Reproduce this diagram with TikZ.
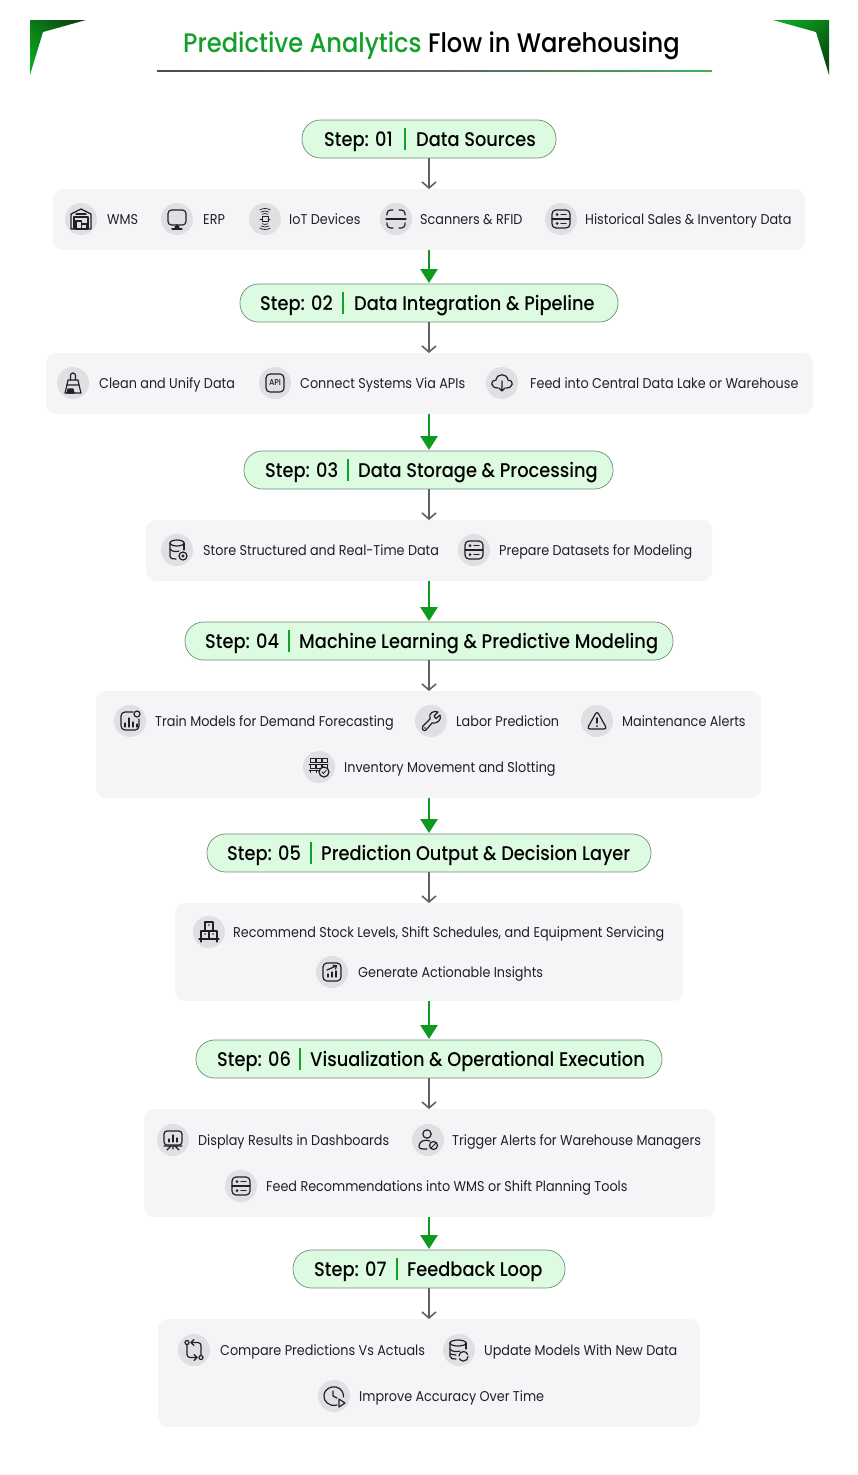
\documentclass[tikz,border=0pt]{standalone}
\usepackage{fontspec}
\setmainfont{Poppins}[FakeStretch=0.9]
\newfontfamily\medfont{Poppins Medium}[FakeStretch=0.9]
\usetikzlibrary{arrows.meta,shadings,calc}
\definecolor{brand}{HTML}{12A02A}
\definecolor{arrowgreen}{HTML}{0E9A1E}
\definecolor{ink}{HTML}{1E2028}
\definecolor{panelbg}{HTML}{F5F5F8}
\definecolor{iconbg}{HTML}{E0E0E3}
\definecolor{pillbg}{HTML}{DDFBE1}
\definecolor{pillline}{HTML}{6F8F76}
\definecolor{linkgray}{HTML}{5F5F64}
\definecolor{cornerdark}{HTML}{0A4A12}
\definecolor{cornerlight}{HTML}{0CA51E}
\newcommand{\pillfont}{\medfont\fontsize{19.8}{24}\selectfont}
\newcommand{\labelfont}{\fontsize{14.2}{17}\selectfont}
\tikzset{
  x=1pt,y=-1pt,
  pillbox/.style={draw=pillline,line width=.7pt,fill=pillbg,rounded corners=18.5pt},
  panelbox/.style={fill=panelbg,rounded corners=10pt},
  grayarrow/.style={draw=linkgray,line width=1.7pt,-{Straight Barb[length=6pt,width=14pt,line width=1.6pt]}},
  greenarrow/.style={draw=arrowgreen,line width=2.8pt,-{Triangle[length=14pt,width=17pt]},shorten >=0pt},
  itemtext/.style={anchor=base west,inner sep=0pt,text=ink,font=\labelfont},
  pilltext/.style={anchor=base west,inner sep=0pt,text=black,font=\pillfont},
  iconcircle/.style={fill=iconbg},
  ic/.style={draw=ink,line width=1.2pt,line cap=round,line join=round},
  icf/.style={fill=ink},
  wms/.pic={
    \draw[ic] (-10,10)--(-10,-5)--(0,-10)--(10,-5)--(10,10)--cycle;
    \draw[ic] (-7,10)--(-7,-2)--(7,-2)--(7,10);
    \draw[ic] (-5,2) rectangle (0.5,10);
    \draw[ic] (0.5,5) rectangle (6,10);
    \draw[ic] (-5,-5)--(5,-5);
  },
  erp/.pic={
    \draw[ic,rounded corners=3.5pt] (-9,-9) rectangle (9,6);
    \draw[ic] (0,6)--(0,10) (-5,10)--(5,10) (-2,8)--(2,8);
  },
  iot/.pic={
    \foreach \r in {5.5,8,10.5}{
      \draw[ic,line width=.7pt] (120:\r pt) arc[start angle=120,end angle=60,radius=\r pt];
      \draw[ic,line width=.7pt] (-120:\r pt) arc[start angle=-120,end angle=-60,radius=\r pt];
    }
    \draw[ic,line width=.7pt] (-3,-2.5) rectangle (3,2.5);
    \draw[ic,line width=.7pt] (-5,0)--(-3,0) (3,0)--(5,0);
  },
  scanner/.pic={
    \draw[ic,rounded corners=3.5pt] (-9,-4)--(-9,-9)--(-3,-9);
    \draw[ic,rounded corners=3.5pt] (9,-4)--(9,-9)--(3,-9);
    \draw[ic,rounded corners=3.5pt] (-9,4)--(-9,9)--(-3,9);
    \draw[ic,rounded corners=3.5pt] (9,4)--(9,9)--(3,9);
    \draw[ic] (-10,0)--(10,0);
  },
  listpanel/.pic={
    \draw[ic,rounded corners=4pt] (-9,-9) rectangle (9,9);
    \draw[ic] (-9,0)--(9,0) (0,-4.5)--(5,-4.5) (0,4.5)--(5,4.5);
    \fill[icf] (-4,-4.5) circle[radius=1.5pt] (-4,4.5) circle[radius=1.5pt];
  },
  brush/.pic={
    \draw[ic] (-2.5,-3)--(-2.5,-7.5) arc[start angle=180,end angle=0,radius=2.5pt]--(2.5,-3);
    \draw[ic] (-5,-3)--(5,-3)--(6,2)--(-6,2)--cycle;
    \draw[ic] (-6,2)--(-8,10)--(8,10)--(6,2);
    \draw[ic,fill=ink] (-6,10)--(-5,6)--(0,6)--(1,10)--cycle;
  },
  apibox/.pic={
    \draw[ic,rounded corners=4pt] (-9,-9) rectangle (9,9);
    \node[inner sep=0pt,text=ink,font=\medfont\fontsize{8.5}{8.5}\selectfont] (apilabel) at (0,0) {API};
  },
  cloud/.pic={
    \draw[ic] (-4,5) .. controls (-12,5) and (-12,-3) .. (-6,-3) .. controls (-5,-10) and (5,-10) .. (6,-3) .. controls (12,-3) and (12,5) .. (4,5);
    \draw[ic] (0,-2)--(0,8) (-3,5)--(0,8)--(3,5);
  },
  dbplus/.pic={
    \draw[ic] (0,-7) ellipse[x radius=7pt,y radius=3pt];
    \draw[ic] (-7,-7)--(-7,6) .. controls (-7,9) and (-3,9) .. (-1,9);
    \draw[ic] (7,-7)--(7,0);
    \draw[ic] (-7,-1) .. controls (-5,2) and (0,2) .. (2,1);
    \draw[ic] (6,6) circle[radius=4pt];
    \fill[icf] (6,6) circle[radius=1.6pt];
  },
  trainchart/.pic={
    \draw[ic,rounded corners=4pt] (3,-9)--(-9,-9)--(-9,9)--(9,9)--(9,-2);
    \draw[ic] (7,-7) circle[radius=3pt];
    \draw[ic] (-5,6)--(-5,2) (-1,6)--(-1,-3) (3,6)--(3,1) (7,6)--(7,3);
  },
  wrench/.pic={
    \draw[ic] (-8,5) -- (-1,-2) .. controls (-3,-8) and (3,-11) .. (7,-9) -- (3,-5) -- (5,-2.5) -- (9,-6) .. controls (11,-1) and (6,3) .. (1,2) -- (-5,9) .. controls (-7,11) and (-10,8) .. (-8,5) -- cycle;
    \fill[icf] (-6,7) circle[radius=.9pt];
  },
  alerttri/.pic={
    \draw[ic,rounded corners=3pt] (0,-10)--(10,8)--(-10,8)--cycle;
    \draw[ic,line width=1.4pt] (0,-3)--(0,2);
    \fill[icf] (0,5) circle[radius=1pt];
  },
  gridcheck/.pic={
    \foreach \a in {-9,-3,3}{
      \draw[ic,line width=.9pt] (\a,-9) rectangle ++(5,4);
      \draw[ic,line width=.9pt] (\a,-3) rectangle ++(5,4);
      \draw[ic,line width=.9pt] (\a,3)--++(0,2.5);
    }
    \draw[ic,line width=.9pt] (-10,-3)--(9,-3) (-10,3)--(4,3);
    \draw[ic,fill=iconbg] (5,5) circle[radius=5pt];
    \draw[ic,line width=.8pt] (3,5)--(4.5,6.5)--(7,3.5);
  },
  boxes/.pic={
    \draw[ic] (-4,-10) rectangle (4,-1);
    \draw[ic] (-8,-1) rectangle (0,7);
    \draw[ic] (0,-1) rectangle (8,7);
    \draw[ic] (-10,7)--(10,7) (-8,7)--(-8,10) (8,7)--(8,10);
    \fill[icf] (0,-7) circle[radius=.8pt] (-4,2) circle[radius=.8pt] (4,2) circle[radius=.8pt];
  },
  insight/.pic={
    \draw[ic,rounded corners=4pt] (-9,-9) rectangle (9,9);
    \draw[ic] (-4,5)--(-4,2) (0,5)--(0,0) (4,5)--(4,-1);
    \draw[ic] (-5,-2)--(4,-6) (1,-6.5)--(4.5,-6.3)--(3.5,-3);
  },
  dashboard/.pic={
    \draw[ic,rounded corners=3pt] (-9,-9) rectangle (9,5);
    \draw[ic] (-4,2)--(-4,-1) (0,2)--(0,-5) (4,2)--(4,-2);
    \draw[ic] (-9,6)--(9,6) (0,6)--(0,9) (-2,6)--(-6,10) (2,6)--(6,10);
  },
  useralert/.pic={
    \draw[ic] (-1,-6) circle[radius=4.2pt];
    \draw[ic] (2,1) .. controls (-3,-1) and (-9,1) .. (-9,6) .. controls (-9,9) and (-7,9) .. (-1,9);
    \draw[ic] (5.5,5.5) circle[radius=4pt];
    \draw[ic,line width=.8pt] (3.5,7.5)--(7.5,3.5);
  },
  comparegit/.pic={
    \draw[ic] (-7,-7.5) circle[radius=2pt] (7,7.5) circle[radius=2pt];
    \draw[ic,rounded corners=3pt] (-7,-5)--(-7,7.5)--(3,7.5);
    \draw[ic] (0,4.5)--(3,7.5)--(0,10.5);
    \draw[ic,rounded corners=3pt] (7,5)--(7,-7.5)--(-3,-7.5);
    \draw[ic] (0,-10.5)--(-3,-7.5)--(0,-4.5);
  },
  dbsync/.pic={
    \draw[ic] (-1,-7) ellipse[x radius=8pt,y radius=3pt];
    \draw[ic] (-9,-7)--(-9,6) .. controls (-9,9) and (-6,9) .. (-3,9);
    \draw[ic] (7,-7)--(7,-1);
    \draw[ic] (-9,-1) .. controls (-7,2) and (-2,2) .. (1,1);
    \draw[ic] (-9,4) -- (-3,5);
    \draw[ic] (0,6) arc[start angle=180,end angle=20,radius=4.5pt];
    \draw[ic] (9,6.5) arc[start angle=0,end angle=-150,radius=4.5pt];
  },
  clockplay/.pic={
    \draw[ic] (3,9) .. controls (-5,11) and (-11,5) .. (-10,-1) .. controls (-9,-8) and (-2,-10) .. (2,-9) .. controls (7,-8) and (10,-3) .. (9.5,1);
    \draw[ic] (-1,-5)--(-1,0)--(3,2);
    \draw[ic] (5,3)--(11,7)--(5,11)--cycle;
  },
}
\newcommand{\stepitem}[6]{% id, icon style, icon x, y, label x, text
  \fill[iconcircle] (#3,#4) circle[radius=16pt];
  \pic at (#3,#4) {#2};
  \node[itemtext] (#1) at (#5,#4+5.4) {#6};
}
\newcommand{\pilltexts}[6]{% id, step x, step, bar x, title x, y; title follows
  \node[pilltext] (#1s) at (#2,#6+7) {#3};
  \fill[brand] (#4-1,#6-11) rectangle (#4+1,#6+11);
  \pilltitle{#1t}{#5}{#6}}
\newcommand{\pilltitle}[4]{\node[pilltext] (#1) at (#2,#3+7) {#4};}
\begin{document}
\begin{tikzpicture}
\useasboundingbox (0,0) rectangle (858,1475);

% corner accents
\path[left color=cornerdark,right color=cornerlight,shading angle=-45] (30,20)--(86,20)--(43,32)--(30,75)--cycle;
\path[right color=cornerdark,left color=cornerlight,shading angle=45] (829,20)--(773,20)--(816,32)--(829,75)--cycle;

% title
\node[anchor=base west,inner sep=0pt,text=brand,font=\medfont\fontsize{26.85}{30}\selectfont] (titlea) at (183,52) {Predictive Analytics};
\node[anchor=base east,inner sep=0pt,text=black,font=\medfont\fontsize{26.85}{30}\selectfont] (titleb) at (680,52) {Flow in Warehousing};
\coordinate (rulea) at (157,70);
\coordinate (ruleb) at (712,71);
\shade[left color=linkgray!80!black,right color=brand!80,middle color=linkgray] (rulea) rectangle (ruleb);

% panels
\fill[panelbox] (53,189) rectangle (805,250);
\fill[panelbox] (46,353) rectangle (813,414);
\fill[panelbox] (146,520) rectangle (712,581);
\fill[panelbox] (96,691) rectangle (761,798);
\fill[panelbox] (175,903) rectangle (683,1001);
\fill[panelbox] (144,1109) rectangle (715,1217);
\fill[panelbox] (158,1319) rectangle (700,1427);

% pills
\draw[pillbox] (302,120) rectangle (556,158);
\draw[pillbox] (240,284) rectangle (618,322);
\draw[pillbox] (244,451) rectangle (613,489);
\draw[pillbox] (185,622) rectangle (673,660);
\draw[pillbox] (207,834) rectangle (651,872);
\draw[pillbox] (196,1040) rectangle (662,1078);
\draw[pillbox] (293,1250) rectangle (565,1288);

% connector anchors
\foreach \n/\y in {sA/158,sB/322,sC/489,sD/660,sE/872,sF/1078,sG/1288}{\coordinate (\n) at (429,\y);}
\foreach \n/\y in {pA/189,pB/353,pC/520,pD/691,pE/903,pF/1109,pG/1319}{\coordinate (\n) at (429,\y);}
\foreach \n/\y in {qA/250,qB/414,qC/581,qD/798,qE/1001,qF/1217}{\coordinate (\n) at (429,\y);}
\foreach \n/\y in {tB/283,tC/450,tD/621,tE/833,tF/1039,tG/1249}{\coordinate (\n) at (429,\y);}
\draw[grayarrow] (sA)--(pA);
\draw[grayarrow] (sB)--(pB);
\draw[grayarrow] (sC)--(pC);
\draw[grayarrow] (sD)--(pD);
\draw[grayarrow] (sE)--(pE);
\draw[grayarrow] (sF)--(pF);
\draw[grayarrow] (sG)--(pG);
\draw[greenarrow] (qA)--(tB);
\draw[greenarrow] (qB)--(tC);
\draw[greenarrow] (qC)--(tD);
\draw[greenarrow] (qD)--(tE);
\draw[greenarrow] (qE)--(tF);
\draw[greenarrow] (qF)--(tG);

% pill texts and bars
\pilltexts{a}{324}{Step: 01}{405}{416}{139}{Data Sources}
\pilltexts{b}{260}{Step: 02}{343}{354}{303}{Data Integration \& Pipeline}
\pilltexts{c}{265}{Step: 03}{348}{358}{470}{Data Storage \& Processing}
\pilltexts{d}{205}{Step: 04}{289}{299}{641}{Machine Learning \& Predictive Modeling}
\pilltexts{e}{227}{Step: 05}{311}{321}{853}{Prediction Output \& Decision Layer}
\pilltexts{f}{217}{Step: 06}{300}{310}{1059}{Visualization \& Operational Execution}
\pilltexts{g}{314}{Step: 07}{397}{407}{1269}{Feedback Loop}

% items
\stepitem{a1}{wms}{81}{219}{107}{WMS}
\stepitem{a2}{erp}{177}{219}{203}{ERP}
\stepitem{a3}{iot}{265}{219}{289}{IoT Devices}
\stepitem{a4}{scanner}{396}{219}{420}{Scanners \& RFID}
\stepitem{a5}{listpanel}{561}{219}{585}{Historical Sales \& Inventory Data}

\stepitem{b1}{brush}{73}{383}{99}{Clean and Unify Data}
\stepitem{b2}{apibox}{275}{383}{300}{Connect Systems Via APIs}
\stepitem{b3}{cloud}{502}{383}{530}{Feed into Central Data Lake or Warehouse}

\stepitem{c1}{dbplus}{177}{550}{203}{Store Structured and Real-Time Data}
\stepitem{c2}{listpanel}{474}{550}{499}{Prepare Datasets for Modeling}

\stepitem{d1}{trainchart}{130}{721}{155}{Train Models for Demand Forecasting}
\stepitem{d2}{wrench}{431}{721}{456}{Labor Prediction}
\stepitem{d3}{alerttri}{597}{721}{622}{Maintenance Alerts}
\stepitem{d4}{gridcheck}{319}{767}{344}{Inventory Movement and Slotting}

\stepitem{e1}{boxes}{209}{932}{233}{Recommend Stock Levels, Shift Schedules, and Equipment Servicing}
\stepitem{e2}{insight}{332}{972}{358}{Generate Actionable Insights}

\stepitem{f1}{dashboard}{173}{1140}{198}{Display Results in Dashboards}
\stepitem{f2}{useralert}{428}{1140}{452}{Trigger Alerts for Warehouse Managers}
\stepitem{f3}{listpanel}{241}{1186}{266}{Feed Recommendations into WMS or Shift Planning Tools}

\stepitem{g1}{comparegit}{194}{1350}{220}{Compare Predictions Vs Actuals}
\stepitem{g2}{dbsync}{459}{1350}{484}{Update Models With New Data}
\stepitem{g3}{clockplay}{334}{1396}{359}{Improve Accuracy Over Time}
\end{tikzpicture}
\end{document}
